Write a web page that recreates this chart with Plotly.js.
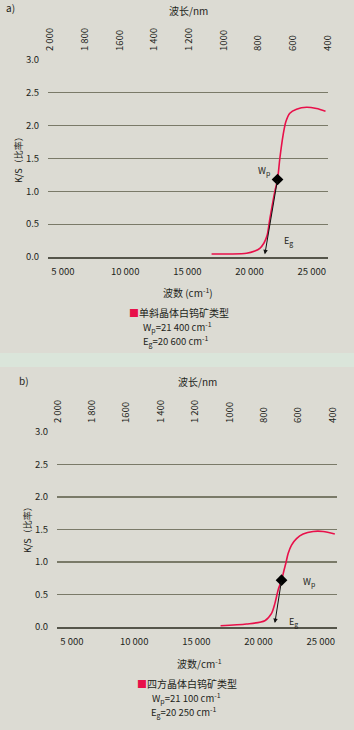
<!DOCTYPE html>
<html><head><meta charset="utf-8">
<script src="https://cdn.plot.ly/plotly-3.0.1.min.js"></script>
<style>html,body{margin:0;padding:0;background:#dcdbd3;}</style>
</head><body><div id="chart" style="width:354px;height:730px;"></div>
<script>
// ---- data ----
const waveNumTicks = [5000, 10000, 15000, 20000, 25000];
const waveNumLabels = ["5 000", "10 000", "15 000", "20 000", "25 000"];
const wavelengthTicks = [2000, 1800, 1600, 1400, 1200, 1000, 800, 600, 400];
const wavelengthLabels = ["2 000", "1 800", "1600", "1 400", "1 200", "1000", "800", "600", "400"];
const ksTicks = [0, 0.5, 1.0, 1.5, 2.0, 2.5, 3.0];

const monoName = "单斜晶体白钨矿类型";
const monoWaveNum = [16944, 18414, 19755, 20422, 20823, 21145, 21410, 21627, 22028, 22245, 22430, 22695, 22912, 23233, 23771, 24574, 25377, 26100];
const monoKS =      [0.046, 0.046, 0.056, 0.091, 0.132, 0.209, 0.33, 0.58, 1.00, 1.18, 1.50, 1.86, 2.06, 2.19, 2.25, 2.28, 2.26, 2.22];
const monoWp = [22245, 1.18];
const monoEgTip = [21225, 0.04];
const monoWpText = "21 400";
const monoEgText = "20 600";

const tetraName = "四方晶体白钨矿类型";
const tetraWaveNum = [16944, 19032, 20502, 21040, 21305, 21570, 21843, 22052, 22189, 22373, 22646, 23048, 23578, 24381, 25185, 26124];
const tetraKS =      [0.02, 0.046, 0.097, 0.21, 0.36, 0.57, 0.72, 0.88, 0.98, 1.13, 1.26, 1.36, 1.43, 1.47, 1.47, 1.43];
const tetraWp = [21843, 0.72];
const tetraEgTip = [21305, 0.06];
const tetraWpText = "21 100";
const tetraEgText = "20 250";

// ---- styles ----
const W = 354, H = 730;
const RED = "#e8104a";
const TXT = "#231f20";
const BG = "#dcdbd3";
const FONT = "Noto Sans CJK SC, Noto Sans, sans-serif";
const px = x => x / W;
const py = y => 1 - y / H;
const SUB = t => "<sub><span style='font-size:7px'>" + t + "</span></sub>";
const SUP = t => "<sup><span style='font-size:7px'>" + t + "</span></sup>";

const traces = [
  {x: monoWaveNum, y: monoKS, xaxis: "x", yaxis: "y", mode: "lines", line: {color: RED, width: 1.6, shape: "spline", smoothing: 0.8}, showlegend: false, name: monoName},
  {x: [monoWp[0]], y: [monoWp[1]], xaxis: "x", yaxis: "y", mode: "markers", marker: {symbol: "diamond", size: 9, color: "#000"}, showlegend: false},
  {x: [null], y: [null], xaxis: "x2", yaxis: "y", showlegend: false},
  {x: tetraWaveNum, y: tetraKS, xaxis: "x3", yaxis: "y2", mode: "lines", line: {color: RED, width: 1.6, shape: "spline", smoothing: 0.8}, showlegend: false, name: tetraName},
  {x: [tetraWp[0]], y: [tetraWp[1]], xaxis: "x3", yaxis: "y2", mode: "markers", marker: {symbol: "diamond", size: 9, color: "#000"}, showlegend: false},
  {x: [null], y: [null], xaxis: "x4", yaxis: "y2", showlegend: false}
];

const xBottom = (dom, anchor) => ({
  domain: dom, anchor: anchor, range: [3800, 26300], tickvals: waveNumTicks, ticktext: waveNumLabels,
  showgrid: false, zeroline: false, showline: true, linecolor: "#55554a", linewidth: 1.6,
  ticks: "outside", ticklen: 5, tickcolor: "rgba(0,0,0,0)", tickfont: {size: 9.5, color: TXT, family: FONT}, fixedrange: true
});
const xTop = (over, anchor, range) => ({
  overlaying: over, side: "top", anchor: anchor, range: range, tickvals: wavelengthTicks, ticktext: wavelengthLabels,
  tickangle: -90, showgrid: false, zeroline: false, showline: false,
  ticks: "outside", ticklen: 6, tickcolor: "rgba(0,0,0,0)", tickfont: {size: 9.5, color: TXT, family: FONT}, fixedrange: true
});
const yAx = (dom, anchor) => ({
  domain: dom, anchor: anchor, range: [0, 3.0], tickvals: ksTicks, tickformat: ".1f",
  showgrid: true, gridcolor: "#7a7a68", gridwidth: 1.2, zeroline: false, showline: false,
  ticks: "outside", ticklen: 6, tickcolor: "rgba(0,0,0,0)", tickfont: {size: 9.5, color: TXT, family: FONT}, fixedrange: true
});

const ann = (text, x, y, opts) => Object.assign({text: text, x: px(x), y: py(y), xref: "paper", yref: "paper", showarrow: false, xanchor: "center", yanchor: "middle", font: {size: 9.5, color: TXT, family: FONT}}, opts || {});
const arrow = (tip, tail, xr, yr) => ({x: tip[0], y: tip[1], ax: tail[0], ay: tail[1], xref: xr, yref: yr, axref: xr, ayref: yr, text: "", showarrow: true, arrowhead: 2, arrowsize: 0.9, arrowwidth: 1, arrowcolor: "#111"});

const layout = {
  width: W, height: H, margin: {l: 0, r: 0, t: 0, b: 0},
  paper_bgcolor: BG, plot_bgcolor: BG, showlegend: false,
  font: {family: FONT, color: TXT, size: 9.5},
  xaxis: xBottom([px(48), px(328)], "y"),
  xaxis2: xTop("x", "y", [2012, 398]),
  yaxis: yAx([py(257), py(60)], "x"),
  xaxis3: xBottom([px(57), px(337)], "y2"),
  xaxis4: xTop("x3", "y2", [2004, 374]),
  yaxis2: yAx([py(627), py(432)], "x3"),
  shapes: [
    {type: "rect", xref: "paper", yref: "paper", x0: 0, x1: 1, y0: py(367), y1: py(353), fillcolor: "#dae5da", line: {width: 0}, layer: "below"}
  ],
  annotations: [
    ann("a)", 4, 8, {xanchor: "left", font: {size: 10, color: TXT, family: FONT}}),
    ann("波长/nm", 188, 10, {font: {size: 10, color: TXT, family: FONT}}),
    ann("K/S（比率）", 18, 158, {textangle: -90, font: {size: 9, color: TXT, family: FONT}}),
    ann("波数 (cm" + SUP("-1") + ")", 188, 292, {font: {size: 10, color: TXT, family: FONT}}),
    ann("<span style='color:" + RED + "'>■</span>" + monoName, 179, 312, {font: {size: 10, color: TXT, family: FONT}}),
    ann("W" + SUB("p") + "=" + monoWpText + " cm" + SUP("-1"), 177, 327),
    ann("E" + SUB("g") + "=" + monoEgText + " cm" + SUP("-1"), 176, 341),
    ann("W" + SUB("p"), 272, 171, {xanchor: "right", font: {size: 9, color: TXT, family: FONT}}),
    ann("E" + SUB("g"), 282, 241, {xanchor: "left", font: {size: 9, color: TXT, family: FONT}}),
    arrow(monoEgTip, monoWp, "x", "y"),

    ann("b)", 17, 380, {xanchor: "left", font: {size: 10, color: TXT, family: FONT}}),
    ann("波长/nm", 197, 381, {font: {size: 10, color: TXT, family: FONT}}),
    ann("K/S（比率）", 27, 528, {textangle: -90, font: {size: 9, color: TXT, family: FONT}}),
    ann("波数/cm" + SUP("-1"), 199, 663, {font: {size: 10, color: TXT, family: FONT}}),
    ann("<span style='color:" + RED + "'>■</span>" + tetraName, 187, 683, {font: {size: 10, color: TXT, family: FONT}}),
    ann("W" + SUB("p") + "=" + tetraWpText + " cm" + SUP("-1"), 186, 698),
    ann("E" + SUB("g") + "=" + tetraEgText + " cm" + SUP("-1"), 184, 712),
    ann("W" + SUB("p"), 301, 582, {xanchor: "left", font: {size: 9, color: TXT, family: FONT}}),
    ann("E" + SUB("g"), 287, 622, {xanchor: "left", font: {size: 9, color: TXT, family: FONT}}),
    arrow(tetraEgTip, tetraWp, "x3", "y2")
  ]
};

Plotly.newPlot("chart", traces, layout, {displayModeBar: false, staticPlot: true});
</script></body></html>
